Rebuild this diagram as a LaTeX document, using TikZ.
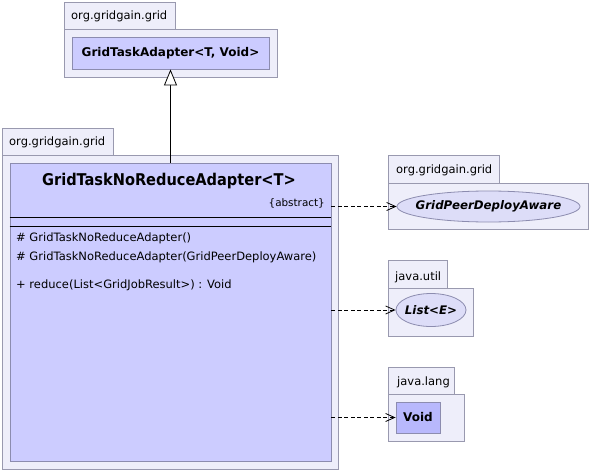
\documentclass[tikz,border=0pt]{standalone}
\usepackage{fontspec}
\setmainfont{DejaVu Sans}
\newfontfamily\condfont{DejaVu Sans Condensed}
\usetikzlibrary{arrows.meta,shapes.geometric}
\definecolor{pkgfill}{RGB}{238,238,250}
\definecolor{pkgline}{RGB}{153,153,175}
\definecolor{clsfill}{RGB}{204,204,255}
\definecolor{clsline}{RGB}{140,140,175}
\definecolor{ellfill}{RGB}{221,221,248}
\definecolor{voidfill}{RGB}{184,184,252}
\tikzset{
  pkg/.style={rectangle, draw=pkgline, fill=pkgfill, inner sep=0pt, line width=0.8pt},
  cls/.style={rectangle, draw=clsline, fill=clsfill, inner sep=0pt, line width=0.8pt},
  iface/.style={ellipse, draw=clsline, fill=ellfill, inner sep=0pt, line width=0.8pt},
  lbl/.style={inner sep=0pt, font=\fontsize{11.5}{13}\selectfont},
  boldlbl/.style={inner sep=0pt, font=\bfseries\fontsize{12}{14}\selectfont},
  italbl/.style={inner sep=0pt, font=\bfseries\itshape\fontsize{11.8}{14}\selectfont},
  dep/.style={draw, line width=0.8pt, dash pattern=on 4pt off 2.5pt, -{Straight Barb[length=9pt,width=8pt]}},
  gen/.style={draw, line width=0.8pt, -{Triangle[length=16pt,width=13pt,fill=white]}}
}
\begin{document}
\begin{tikzpicture}[x=1pt,y=-1pt]
\fill[white] (0,0) rectangle (590,471);
\useasboundingbox (0,0) rectangle (590,471);

% top package
\node[pkg, minimum width=111pt, minimum height=27pt] (t1tab) at (119.5,15.5) {};
\node[pkg, minimum width=213pt, minimum height=48pt] (t1body) at (170.5,53) {};
\node[lbl, anchor=west] (t1name) at (71,16) {org.gridgain.grid};
\node[cls, boldlbl, minimum width=197pt, minimum height=32pt] (sup) at (170.5,53) {GridTaskAdapter<T, Void>};

% main package
\node[pkg, minimum width=111pt, minimum height=27pt] (p2tab) at (57.5,141.5) {};
\node[pkg, minimum width=336pt, minimum height=314pt] (p2body) at (170,312) {};
\node[lbl, anchor=west] (p2name) at (9,142) {org.gridgain.grid};
\node[cls, minimum width=321pt, minimum height=298pt] (main) at (170.5,312) {};
\node[inner sep=0pt, font=\condfont\bfseries\fontsize{16.2}{18}\selectfont, anchor=base] (title) at (169,185) {GridTaskNoReduceAdapter<T>};
\node[inner sep=0pt, font=\fontsize{10.4}{12}\selectfont, anchor=east] (abs) at (325,203) {\{abstract\}};
\draw[line width=0.8pt] (main.west |- 0,217) -- (main.east |- 0,217);
\draw[line width=0.8pt] (main.west |- 0,226) -- (main.east |- 0,226);
\node[lbl, anchor=west] (op1) at (16,238) {\# GridTaskNoReduceAdapter()};
\node[lbl, anchor=west] (op2) at (16,257) {\# GridTaskNoReduceAdapter(GridPeerDeployAware)};
\node[lbl, anchor=west] (op3) at (16,285) {+ reduce(List<GridJobResult>) : Void};

% GridPeerDeployAware package
\node[pkg, minimum width=111pt, minimum height=28pt] (p3tab) at (443.5,169) {};
\node[pkg, minimum width=200pt, minimum height=46pt] (p3body) at (488,206) {};
\node[lbl, anchor=west] (p3name) at (396,170) {org.gridgain.grid};
\node[iface, minimum width=183pt, minimum height=31pt] (gpda) at (488.5,206.5) {};
\node[italbl] (gpdatext) at (gpda.center) {GridPeerDeployAware};

% java.util package
\node[pkg, minimum width=59pt, minimum height=28pt] (p4tab) at (417.5,274) {};
\node[pkg, minimum width=85pt, minimum height=48pt] (p4body) at (430.5,312) {};
\node[lbl, anchor=west] (p4name) at (395,277) {java.util};
\node[iface, minimum width=70pt, minimum height=33pt] (list) at (431,310) {};
\node[italbl] (listtext) at (list.center) {List<E>};

% java.lang package
\node[pkg, minimum width=66pt, minimum height=27pt] (p5tab) at (421,380.5) {};
\node[pkg, minimum width=76pt, minimum height=47pt] (p5body) at (426,417.5) {};
\node[lbl, anchor=west] (p5name) at (397,382) {java.lang};
\node[rectangle, draw=clsline, fill=voidfill, line width=0.8pt, boldlbl, minimum width=44pt, minimum height=31pt] (void) at (418,417.5) {Void};

% connectors
\draw[gen] (main.north) -- (sup.south);
\draw[dep] (main.east |- gpda.west) -- (gpda.west);
\draw[dep] (main.east |- list.west) -- (list.west);
\draw[dep] (main.east |- void.west) -- (void.west);
\end{tikzpicture}
\end{document}
